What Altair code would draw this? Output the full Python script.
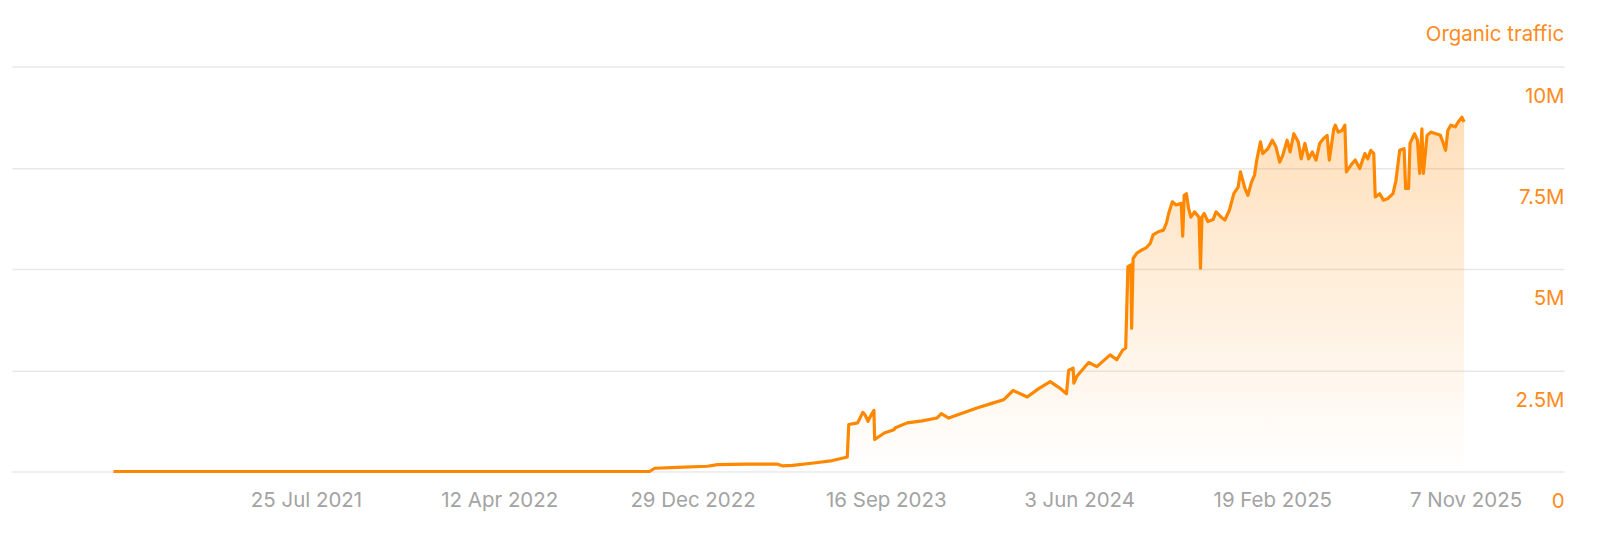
import altair as alt
import pandas as pd

series_name = "Organic traffic"

dates = [
    "2020-11-07","2021-06-01","2021-12-01","2022-06-01","2022-11-01","2022-11-08","2022-12-09","2023-01-18",
    "2023-02-01","2023-03-13","2023-04-23","2023-04-29","2023-05-13","2023-06-11","2023-07-06","2023-07-22",
    "2023-07-26","2023-07-28","2023-08-09","2023-08-16","2023-08-19","2023-08-23","2023-08-28","2023-08-31",
    "2023-09-01","2023-09-14","2023-09-27","2023-09-29","2023-10-15","2023-11-04","2023-11-24","2023-11-30",
    "2023-12-10","2023-12-30","2024-01-17","2024-02-04","2024-02-22","2024-03-06","2024-03-25","2024-04-09",
    "2024-04-25","2024-05-08","2024-05-17","2024-05-20","2024-05-26","2024-05-27","2024-05-31","2024-06-16",
    "2024-06-27","2024-07-15","2024-07-24","2024-08-01","2024-08-05",
    "2024-08-08","2024-08-12","2024-08-13","2024-08-15","2024-08-20","2024-08-27","2024-09-02","2024-09-07",
    "2024-09-11","2024-09-18","2024-09-25","2024-09-29","2024-10-02","2024-10-07","2024-10-12","2024-10-19",
    "2024-10-21","2024-10-23","2024-10-26","2024-10-29","2024-11-01","2024-11-06","2024-11-12","2024-11-14",
    "2024-11-16","2024-11-19","2024-11-24","2024-12-01","2024-12-05","2024-12-12","2024-12-17","2024-12-23",
    "2024-12-29","2025-01-04","2025-01-07","2025-01-13","2025-01-17","2025-01-22","2025-01-26","2025-01-29",
    "2025-02-03","2025-02-06","2025-02-13","2025-02-19","2025-02-24","2025-03-01","2025-03-05","2025-03-11",
    "2025-03-15","2025-03-20","2025-03-26","2025-03-30","2025-04-04","2025-04-09","2025-04-14","2025-04-19",
    "2025-04-24","2025-04-29","2025-05-04","2025-05-07","2025-05-13","2025-05-15","2025-05-19","2025-05-24",
    "2025-05-28","2025-05-30","2025-06-05","2025-06-11","2025-06-17","2025-06-24","2025-06-28","2025-07-02",
    "2025-07-06","2025-07-08","2025-07-14","2025-07-19","2025-07-25","2025-08-01","2025-08-05","2025-08-10",
    "2025-08-16","2025-08-18","2025-08-22","2025-08-24","2025-08-30","2025-09-03","2025-09-06","2025-09-09",
    "2025-09-11","2025-09-16","2025-09-21","2025-09-28","2025-10-04","2025-10-08","2025-10-11","2025-10-14",
    "2025-10-18","2025-10-24","2025-10-28","2025-11-02","2025-11-05",
]

# organic traffic in millions
traffic_m = [
    0, 0, 0, 0, 0.0, 0.08, 0.10, 0.13,
    0.17, 0.18, 0.18, 0.14, 0.15, 0.21, 0.27, 0.34,
    0.36, 1.16, 1.20, 1.46, 1.40, 1.24, 1.42, 1.51,
    0.79, 0.95, 1.03, 1.08, 1.20, 1.25, 1.32, 1.43,
    1.32, 1.45, 1.57, 1.67, 1.77, 2.00, 1.84, 2.04,
    2.22, 2.06, 1.92, 2.50, 2.55, 2.18, 2.35, 2.69,
    2.59, 2.88, 2.76, 3.00, 3.05,
    5.06, 5.10, 3.54, 5.26, 5.39, 5.47, 5.53, 5.63,
    5.84, 5.92, 5.96, 6.13, 6.37, 6.66, 6.58, 6.62,
    5.81, 6.82, 6.86, 6.49, 6.28, 6.41, 6.28, 5.02,
    6.28, 6.37, 6.17, 6.22, 6.41, 6.28, 6.21, 6.45,
    6.86, 7.03, 7.40, 6.99, 6.82, 7.15, 7.32, 7.69,
    8.14, 7.85, 7.97, 8.18, 8.01, 7.64, 7.80, 8.18,
    7.89, 8.34, 8.14, 7.72, 8.10, 7.72, 7.89, 7.69,
    8.10, 8.22, 8.30, 7.69, 8.46, 8.55, 8.38, 8.42,
    8.55, 7.40, 7.56, 7.69, 7.48, 7.85, 7.72, 7.93,
    7.85, 6.78, 6.86, 6.70, 6.74, 6.86, 7.19, 7.93,
    7.97, 6.99, 6.99, 8.10, 8.34, 8.18, 7.36, 8.46,
    7.36, 8.30, 8.38, 8.34, 8.30, 8.10, 7.93, 8.42,
    8.55, 8.51, 8.63, 8.75, 8.63,
]

y_ticks = [0, 2.5, 5, 7.5, 10]
x_tick_dates = ["2021-07-25", "2022-04-12", "2022-12-29", "2023-09-16", "2024-06-03", "2025-02-19", "2025-11-07"]
x_domain_dates = ["2020-06-23", "2026-03-20"]

df = pd.DataFrame({"date": dates, "traffic": traffic_m})


def ms(d):
    return int(pd.Timestamp(d, tz="UTC").value // 10**6)


ORANGE = "#FF8800"
ORANGE_TXT = "#FF8A1C"
GRAY_TXT = "#A3A3A3"
FONT = "Inter"
FS = 20.5

x_enc = alt.X(
    "date:T",
    scale=alt.Scale(type="utc", domain=[ms(d) for d in x_domain_dates]),
    axis=alt.Axis(
        values=[ms(d) for d in x_tick_dates],
        format="%-d %b %Y",
        labelColor=GRAY_TXT,
        labelFont=FONT,
        labelFontSize=FS,
        domain=False,
        ticks=False,
        tickSize=0,
        grid=False,
        labelPadding=29,
        labelBaseline="middle",
        labelFlush=False,
        labelOverlap=False,
        title=None,
    ),
)

y_enc = alt.Y(
    "traffic:Q",
    scale=alt.Scale(domain=[0, 10], nice=False, zero=True),
    axis=alt.Axis(
        orient="right",
        values=y_ticks,
        labelExpr="datum.value == 0 ? '0' : datum.value + 'M'",
        labelColor=ORANGE_TXT,
        labelFont=FONT,
        labelFontSize=FS,
        labelAlign="right",
        labelBaseline="middle",
        labelOffset=30,
        labelPadding=0,
        ticks=False,
        tickSize=0,
        domain=False,
        grid=True,
        gridColor="#E8E8E8",
        gridWidth=1.5,
        title=None,
    ),
)

base = alt.Chart(df)

area = base.mark_area(
    color=alt.Gradient(
        gradient="linear",
        stops=[
            alt.GradientStop(color="rgba(255,136,0,0.27)", offset=0),
            alt.GradientStop(color="rgba(255,136,0,0.0)", offset=1),
        ],
        x1=0, x2=0, y1=0, y2=1,
    )
).encode(x=x_enc, y=y_enc)

line = base.mark_line(color=ORANGE, strokeWidth=3.2, strokeJoin="round").encode(x=x_enc, y=y_enc)

title_text = alt.Chart(pd.DataFrame({"t": [series_name]})).mark_text(
    align="right", baseline="middle", font=FONT, fontSize=FS, color=ORANGE_TXT
).encode(x=alt.value(1556), y=alt.value(-32), text="t:N")

chart = alt.layer(area, line, title_text).properties(
    width=1556,
    height=406,
    padding={"left": 4, "top": 58, "right": 28, "bottom": 55},
    autosize="none",
).configure_view(stroke=None)

chart.save("out.html", embed_options={"renderer": "svg", "actions": False})
